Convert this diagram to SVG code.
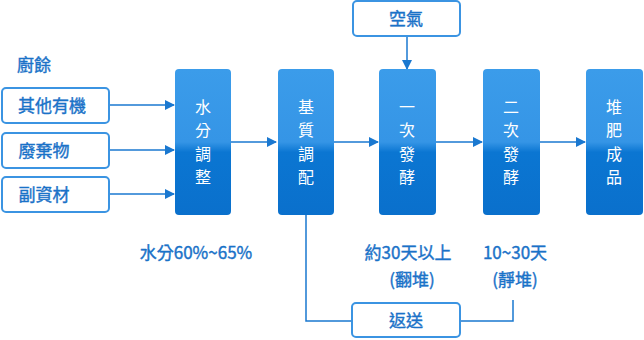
<svg xmlns="http://www.w3.org/2000/svg" width="644" height="340" viewBox="0 0 644 340">
<style>
.in{fill:#fff;stroke:#3b94e2;stroke-width:2}
.it{font-family:"Noto Sans CJK TC","Noto Sans",sans-serif;font-size:17px;fill:#1a72c8;stroke:#1a72c8;stroke-width:0.4;text-anchor:middle}
.nt{font-family:"Noto Sans CJK TC","Noto Sans",sans-serif;font-size:16px;fill:#fff;text-anchor:middle}
.lb{font-family:"Noto Sans CJK TC","Noto Sans",sans-serif;font-size:17px;fill:#1a72c8;stroke:#1a72c8;stroke-width:0.4;text-anchor:middle}
.ln{fill:none;stroke:#1a78d0;stroke-width:1.5}
</style>
<defs>
<linearGradient id="g" x1="0" y1="0" x2="0" y2="1">
<stop offset="0" stop-color="#3b9cea"/>
<stop offset="0.5" stop-color="#3595e6"/>
<stop offset="0.57" stop-color="#0b76d2"/>
<stop offset="1" stop-color="#0a70cc"/>
</linearGradient>
<marker id="a" markerWidth="10" markerHeight="10" refX="9" refY="5" orient="auto" markerUnits="userSpaceOnUse">
<path d="M0,0 L10,5 L0,10 Z" fill="#1a78d0"/>
</marker>
</defs>
<g id="connectors">
<line class="ln" x1="109" y1="105" x2="174" y2="105" marker-end="url(#a)"/>
<line class="ln" x1="109" y1="150" x2="174" y2="150" marker-end="url(#a)"/>
<line class="ln" x1="109" y1="194" x2="174" y2="194" marker-end="url(#a)"/>
<line class="ln" x1="231" y1="142" x2="276" y2="142" marker-end="url(#a)"/>
<line class="ln" x1="334" y1="142" x2="378" y2="142" marker-end="url(#a)"/>
<line class="ln" x1="436" y1="142" x2="482" y2="142" marker-end="url(#a)"/>
<line class="ln" x1="540" y1="142" x2="585" y2="142" marker-end="url(#a)"/>
<line class="ln" x1="407" y1="36" x2="407" y2="69" marker-end="url(#a)"/>
<polyline class="ln" points="306,215 306,321 352,321"/>
<polyline class="ln" points="461,321 513,321 513,300"/>
</g>
<g id="label-chuyu"><text class="lb" x="34" y="71">廚餘</text></g>
<g id="in1"><rect class="in" x="2" y="88" width="107" height="35" rx="4"/><text class="it" x="52" y="111.5">其他有機</text></g>
<g id="in2"><rect class="in" x="2" y="133" width="107" height="35" rx="4"/><text class="it" x="44" y="156.5">廢棄物</text></g>
<g id="in3"><rect class="in" x="2" y="177" width="107" height="35" rx="4"/><text class="it" x="44" y="200.5">副資材</text></g>
<g id="air"><rect class="in" x="353" y="1" width="107" height="35" rx="4"/><text class="it" x="406" y="24.5">空氣</text></g>
<g id="back"><rect class="in" x="352" y="303" width="108" height="34" rx="4"/><text class="it" x="406" y="326.5">返送</text></g>
<g id="n1"><rect x="175" y="69" width="56" height="146" rx="4" fill="url(#g)"/>
<text class="nt" x="203" y="113">水</text><text class="nt" x="203" y="136">分</text><text class="nt" x="203" y="160">調</text><text class="nt" x="203" y="183">整</text></g>
<g id="n2"><rect x="278" y="69" width="56" height="146" rx="4" fill="url(#g)"/>
<text class="nt" x="306" y="113">基</text><text class="nt" x="306" y="136">質</text><text class="nt" x="306" y="160">調</text><text class="nt" x="306" y="183">配</text></g>
<g id="n3"><rect x="379" y="69" width="57" height="146" rx="4" fill="url(#g)"/>
<text class="nt" x="407" y="113">一</text><text class="nt" x="407" y="136">次</text><text class="nt" x="407" y="160">發</text><text class="nt" x="407" y="183">酵</text></g>
<g id="n4"><rect x="483" y="69" width="57" height="146" rx="4" fill="url(#g)"/>
<text class="nt" x="511" y="113">二</text><text class="nt" x="511" y="136">次</text><text class="nt" x="511" y="160">發</text><text class="nt" x="511" y="183">酵</text></g>
<g id="n5"><rect x="586" y="69" width="57" height="146" rx="4" fill="url(#g)"/>
<text class="nt" x="614" y="113">堆</text><text class="nt" x="614" y="136">肥</text><text class="nt" x="614" y="160">成</text><text class="nt" x="614" y="183">品</text></g>
<g id="labels">
<text class="lb" x="196" y="259">水分60%~65%</text>
<text class="lb" x="408" y="259">約30天以上</text>
<text class="lb" x="412" y="286">(翻堆)</text>
<text class="lb" x="515" y="259">10~30天</text>
<text class="lb" x="515" y="286">(靜堆)</text>
</g>
</svg>
